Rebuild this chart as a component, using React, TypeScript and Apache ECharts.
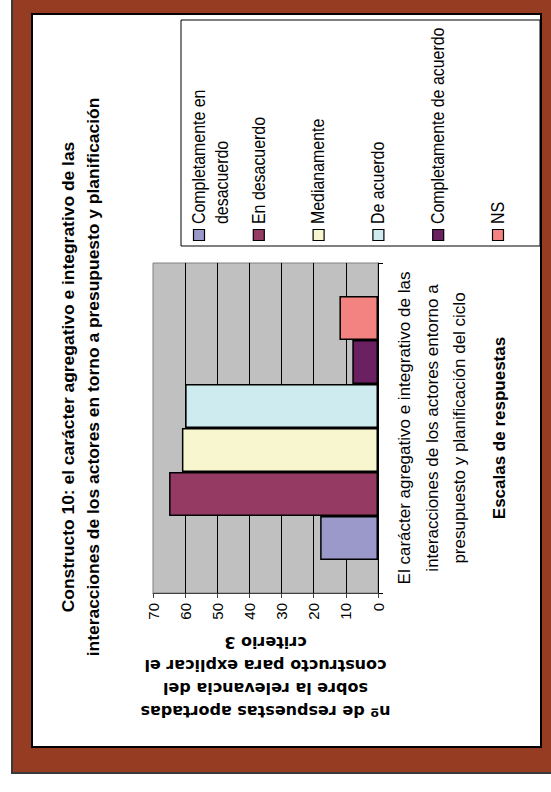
import React, { useEffect, useRef } from 'react';
import * as echarts from 'echarts';

// Single category (the construct) and the six response scales.
const categories = [
  'El carácter agregativo e integrativo de las\ninteracciones de los actores entorno a\npresupuesto y planificación del ciclo',
];
const seriesNames = [
  'Completamente en desacuerdo',
  'En desacuerdo',
  'Medianamente',
  'De acuerdo',
  'Completamente de acuerdo',
  'NS',
];
const legendLabels = [
  'Completamente en\ndesacuerdo',
  'En desacuerdo',
  'Medianamente',
  'De acuerdo',
  'Completamente de acuerdo',
  'NS',
];
const seriesValues = [18, 65, 61, 60, 8, 12];
const seriesColors = ['#9B99C9', '#953A62', '#F8F6CE', '#CEEBEF', '#6B2062', '#F28380'];

const valueMin = 0;
const valueMax = 70;
const valueInterval = 10;

const chartTitle =
  'Constructo 10: el carácter agregativo e integrativo de las\ninteracciones de los actores en torno a presupuesto y planificación';
const valueAxisName =
  'nº de respuestas aportadas\nsobre la relevancia del\nconstructo para explicar el\ncriterio 3';
const categoryAxisName = 'Escalas de respuestas';

const SANS = "'Liberation Sans', Arial, sans-serif";
const WIDE = "'DejaVu Sans', Verdana, sans-serif";

function buildLegend() {
  const items: any[] = [];
  items.push({
    type: 'rect',
    z: 5,
    shape: { x: 181, y: 20, width: 359, height: 226 },
    style: { fill: '#FFFFFF', stroke: '#000000', lineWidth: 1 },
  });
  legendLabels.forEach((label, i) => {
    const cx = 199 + i * 59.8;
    items.push({
      type: 'rect',
      z: 6,
      shape: { x: cx - 5.5, y: 229.5, width: 11, height: 11 },
      style: { fill: seriesColors[i], stroke: '#000000', lineWidth: 1.2 },
    });
    items.push({
      type: 'text',
      z: 6,
      x: cx - 11.5,
      y: 224,
      rotation: Math.PI / 2,
      scaleX: 0.91,
      style: {
        text: label,
        fill: '#000000',
        fontSize: 17.5,
        fontFamily: SANS,
        lineHeight: 23,
        align: 'left',
        verticalAlign: 'top',
        textAlign: 'left',
        textVerticalAlign: 'top',
      },
    });
  });
  return items;
}

export default function App() {
  const ref = useRef<HTMLDivElement>(null);

  useEffect(() => {
    if (!ref.current) return;
    const chart = echarts.init(ref.current, null, { renderer: 'svg' });

    // Bars within a category stack top-down in series order, so the
    // series list runs from the last scale to the first.
    const order = seriesNames.map((_, i) => i).reverse();

    const option: any = {
      animation: false,
      graphic: [
        // brown outer frame
        {
          type: 'rect',
          z: -10,
          shape: { x: 12, y: -10, width: 560, height: 783 },
          style: { fill: '#953C22', stroke: '#3A3A3A', lineWidth: 2 },
        },
        // white panel
        {
          type: 'rect',
          z: -9,
          shape: { x: 32, y: 14, width: 509, height: 733 },
          style: { fill: '#FFFFFF', stroke: '#000000', lineWidth: 2 },
        },
        // chart title
        {
          type: 'text',
          z: 6,
          x: 81,
          y: 377,
          rotation: Math.PI / 2,
          scaleX: 1.09,
          style: {
            text: chartTitle,
            fill: '#000000',
            fontSize: 16,
            fontWeight: 'bold',
            fontFamily: SANS,
            lineHeight: 25,
            align: 'center',
            verticalAlign: 'middle',
            textAlign: 'center',
            textVerticalAlign: 'middle',
          },
        },
        ...buildLegend(),
      ],
      grid: {
        left: 153,
        top: 263,
        width: 225,
        height: 330,
        show: true,
        backgroundColor: '#C0C0C0',
        borderColor: '#808080',
        borderWidth: 1,
      },
      xAxis: {
        type: 'value',
        inverse: true,
        min: valueMin,
        max: valueMax,
        interval: valueInterval,
        axisLine: { show: true, lineStyle: { color: '#404040', width: 1 } },
        axisTick: { show: true, length: 5, lineStyle: { color: '#404040' } },
        splitLine: {
          show: true,
          showMinLine: false,
          showMaxLine: false,
          lineStyle: { color: '#000000', width: 1 },
        },
        axisLabel: { rotate: 90, margin: 10, fontSize: 15, color: '#000000', fontFamily: SANS },
        name: valueAxisName,
        nameLocation: 'middle',
        nameRotate: 180,
        nameGap: 38,
        nameTextStyle: {
          fontSize: 16,
          fontWeight: 'bold',
          fontFamily: WIDE,
          color: '#000000',
          lineHeight: 23,
          align: 'center',
        },
      },
      yAxis: {
        type: 'category',
        data: categories,
        position: 'right',
        axisLine: { show: true, onZero: false, lineStyle: { color: '#000000', width: 1 } },
        axisTick: { show: true, length: 5, lineStyle: { color: '#000000' } },
        axisLabel: {
          rotate: 90,
          margin: 13,
          fontSize: 17,
          lineHeight: 27.5,
          color: '#000000',
          fontFamily: SANS,
        },
        name: categoryAxisName,
        nameLocation: 'middle',
        nameRotate: 90,
        nameGap: 113,
        nameTextStyle: { fontSize: 17, fontWeight: 'bold', fontFamily: SANS, color: '#000000' },
      },
      series: order.map((i) => ({
        type: 'bar',
        name: seriesNames[i],
        data: [seriesValues[i]],
        barGap: '0%',
        barCategoryGap: '20%',
        itemStyle: { color: seriesColors[i], borderColor: '#000000', borderWidth: 1.5 },
      })),
    };

    chart.setOption(option);
    return () => chart.dispose();
  }, []);

  return (
    <div
      ref={ref}
      style={{ position: 'absolute', left: 0, top: 0, width: 551, height: 792 }}
    />
  );
}
